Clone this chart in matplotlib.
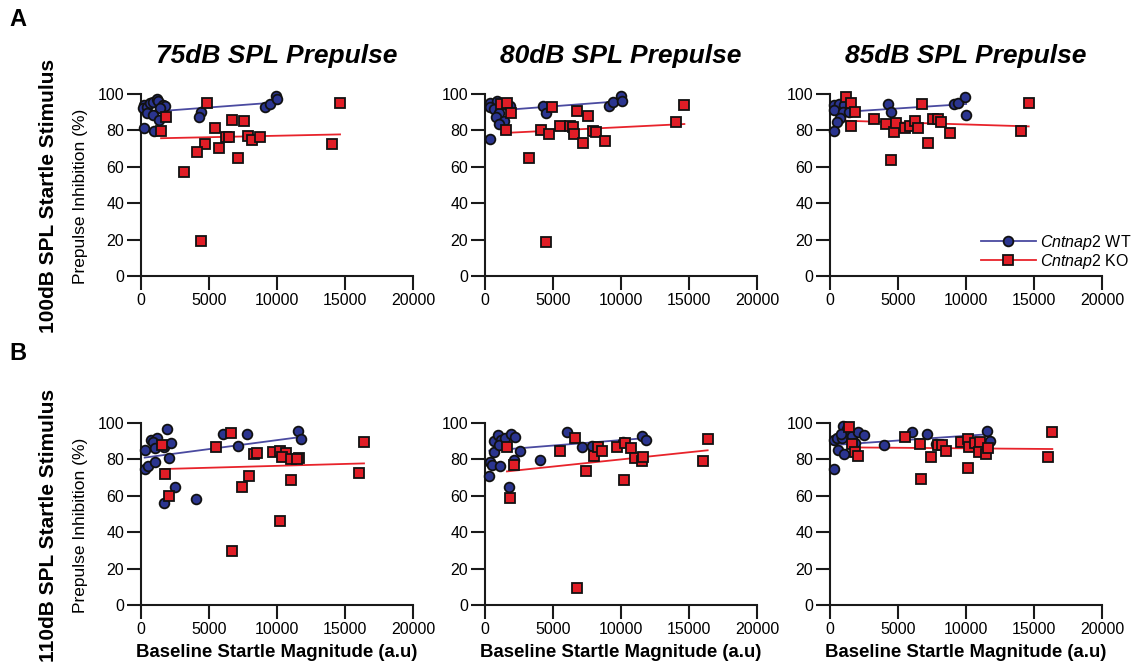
import numpy as np
import matplotlib
matplotlib.use('Agg')
import matplotlib.pyplot as plt

plt.rcParams['font.family'] = ['Liberation Sans', 'DejaVu Sans']
plt.rcParams['mathtext.fontset'] = 'custom'
plt.rcParams['mathtext.rm'] = 'Liberation Sans'
plt.rcParams['mathtext.it'] = 'Liberation Sans:italic'

titles = ['75dB SPL Prepulse', '80dB SPL Prepulse', '85dB SPL Prepulse']
row_labels = ['100dB SPL Startle Stimulus', '110dB SPL Startle Stimulus']
panel_letters = ['A', 'B']

# 100dB startle, 75dB prepulse
wt_x_100_75 = [246, 172, 418, 664, 910, 1156, 1279, 1648, 1771, 1402, 418, 910, 1328, 246, 959,
               4427, 4230, 9124, 9468, 9935, 10009]
wt_y_100_75 = [93.9, 92.1, 93.0, 94.9, 95.8, 97.1, 96.3, 93.9, 93.6, 92.1, 89.4, 88.4, 85.7, 81.5, 79.6,
               90.3, 87.5, 92.7, 94.5, 98.9, 97.1]
ko_x_100_75 = [4845, 1820, 1476, 5460, 6714, 7550, 14634, 14020, 4697, 4083, 5730, 6270, 6468, 7895,
               8141, 8780, 7108, 3173, 4378]
ko_y_100_75 = [94.9, 87.5, 79.8, 81.5, 85.9, 85.0, 95.0, 72.5, 72.5, 68.4, 70.5, 76.1, 76.1, 77.1,
               74.7, 76.5, 64.8, 57.2, 19.3]

# 100dB startle, 80dB prepulse
wt_x_100_80 = [392, 881, 343, 636, 1004, 783, 1370, 1004, 392, 1860, 4258, 4503, 9153, 9447, 9985, 10059]
wt_y_100_80 = [95.2, 96.3, 92.7, 91.6, 89.4, 87.5, 85.3, 83.3, 75.2, 93.4, 93.6, 89.7, 93.6, 95.4, 98.9, 96.3]
ko_x_100_80 = [1175, 1615, 1909, 1566, 4944, 4136, 4723, 5482, 6265, 6461, 6510, 6755, 7562, 7195,
               7929, 8174, 8835, 3230, 4454, 14023, 14660]
ko_y_100_80 = [94.5, 95.2, 89.4, 80.2, 93.0, 80.2, 78.0, 82.6, 82.6, 82.0, 78.0, 90.6, 87.9, 73.0,
               79.4, 79.1, 74.1, 65.0, 18.7, 84.8, 94.1]

# 100dB startle, 85dB prepulse
wt_x_100_85 = [318, 636, 1004, 318, 930, 1370, 759, 514, 318, 4258, 4503, 9153, 9447, 9936, 10010]
wt_y_100_85 = [93.9, 94.5, 93.9, 91.2, 90.3, 90.3, 86.6, 84.8, 79.8, 94.3, 89.9, 94.3, 95.2, 98.5, 88.4]
ko_x_100_85 = [1175, 1566, 1860, 1517, 3230, 4136, 4699, 4870, 5482, 5898, 6265, 6461, 6755, 7171,
               7538, 7929, 8149, 8810, 4454, 14023, 14611]
ko_y_100_85 = [98.5, 95.2, 90.3, 82.6, 86.4, 83.3, 78.9, 83.9, 81.5, 82.4, 85.0, 81.5, 94.5, 73.2,
               86.1, 86.1, 84.6, 78.7, 64.0, 79.6, 95.0]

# 110dB startle, 75dB prepulse
wt_x_110_75 = [294, 711, 1152, 907, 1005, 1691, 2181, 1912, 2059, 270, 515, 1005, 2475, 1691, 4020,
               6029, 7819, 7108, 11569, 11740]
wt_y_110_75 = [85.2, 90.7, 91.6, 89.4, 86.4, 87.0, 88.8, 96.5, 80.6, 74.7, 76.4, 78.4, 65.0, 55.9, 58.1,
               94.0, 94.0, 87.5, 95.6, 91.2]
ko_x_110_75 = [1569, 5539, 6618, 8309, 8554, 9706, 10196, 10686, 10343, 11005, 11618, 11495, 1789,
               7966, 7451, 11054, 2083, 10245, 6716, 16397, 16029]
ko_y_110_75 = [87.9, 87.0, 94.3, 82.8, 83.3, 84.2, 84.8, 83.3, 81.1, 80.2, 80.6, 80.0, 72.0,
               71.1, 64.8, 68.9, 59.9, 46.2, 29.7, 89.4, 72.3]

# 110dB startle, 80dB prepulse
wt_x_110_80 = [318, 392, 514, 1077, 636, 685, 930, 1199, 1004, 1493, 1909, 2227, 2545, 2104, 1737,
               4063, 6020, 7122, 7856, 10181, 11575, 11820]
wt_y_110_80 = [71.1, 78.8, 77.0, 76.4, 84.1, 90.0, 93.6, 90.5, 88.1, 91.8, 94.0, 92.2, 84.8, 79.5, 64.7,
               79.5, 95.2, 87.0, 87.4, 89.4, 93.0, 90.7]
ko_x_110_80 = [1615, 2104, 1811, 5531, 6633, 7440, 6755, 7978, 8296, 8590, 9691, 10303, 10719, 10230,
               11037, 11526, 11648, 16371, 16004]
ko_y_110_80 = [87.0, 76.9, 58.6, 84.8, 91.6, 73.8, 9.2, 82.0, 87.0, 84.6, 87.0, 88.8, 86.4, 68.5,
               80.6, 79.3, 81.5, 91.0, 79.3]

# 110dB startle, 85dB prepulse
wt_x_110_85 = [269, 269, 514, 881, 1077, 930, 1248, 832, 1615, 2056, 2472, 1860, 587, 1004, 3989,
               6020, 7122, 7807, 11526, 11771]
wt_y_110_85 = [74.7, 90.8, 91.6, 91.6, 97.6, 98.5, 96.7, 93.9, 93.0, 95.2, 93.4, 89.0, 85.2, 82.9, 87.9,
               94.9, 93.8, 88.5, 95.8, 90.1]
ko_x_110_85 = [1419, 1615, 1811, 2056, 5482, 6583, 7440, 6681, 7929, 8272, 8541, 9643, 10181, 10254,
               10670, 11037, 10988, 11477, 11599, 10181, 16346, 16004]
ko_y_110_85 = [98.0, 88.5, 83.9, 82.1, 92.3, 88.6, 81.1, 69.0, 87.9, 87.9, 84.8, 89.4, 91.2, 87.0,
               89.2, 89.7, 84.2, 83.0, 86.1, 75.5, 94.9, 81.1]

# regression lines as drawn in the figure: y at the smallest and largest x of each group
wt_fit = [[(89.9, 95.4), (90.6, 96.1), (89.8, 94.5)],
          [(81.0, 92.3), (84.8, 91.7), (87.9, 93.9)]]
ko_fit = [[(75.7, 77.8), (78.5, 83.5), (85.3, 82.2)],
          [(74.7, 77.8), (73.4, 85.0), (86.6, 85.7)]]

panels = [
    [(wt_x_100_75, wt_y_100_75, ko_x_100_75, ko_y_100_75),
     (wt_x_100_80, wt_y_100_80, ko_x_100_80, ko_y_100_80),
     (wt_x_100_85, wt_y_100_85, ko_x_100_85, ko_y_100_85)],
    [(wt_x_110_75, wt_y_110_75, ko_x_110_75, ko_y_110_75),
     (wt_x_110_80, wt_y_110_80, ko_x_110_80, ko_y_110_80),
     (wt_x_110_85, wt_y_110_85, ko_x_110_85, ko_y_110_85)],
]

wt_fill = '#2b3590'
wt_line = '#4a4aa0'
ko_fill = '#e11d26'
ko_line = '#e8232b'

W, H = 1133, 671
fig = plt.figure(figsize=(W / 100, H / 100), dpi=100)

col_left = [141, 485, 830]
row_top = [94, 423]
ax_w, ax_h = 272, 182

for r in range(2):
    for c in range(3):
        ax = fig.add_axes([col_left[c] / W, (H - row_top[r] - ax_h) / H, ax_w / W, ax_h / H])
        wx, wy, kx, ky = panels[r][c]
        ax.plot([min(wx), max(wx)], wt_fit[r][c], color=wt_line, lw=1.3, zorder=2)
        ax.plot([min(kx), max(kx)], ko_fit[r][c], color=ko_line, lw=1.3, zorder=2)
        ax.plot(wx, wy, 'o', ms=7, mfc=wt_fill, mec='#111111', mew=1.3, zorder=3, clip_on=False)
        ax.plot(kx, ky, 's', ms=7, mfc=ko_fill, mec='#111111', mew=1.3, zorder=4, clip_on=False)

        ax.set_xlim(0, 20000)
        ax.set_ylim(0, 100)
        ax.set_xticks([0, 5000, 10000, 15000, 20000])
        ax.set_yticks([0, 20, 40, 60, 80, 100])
        for s in ['top', 'right']:
            ax.spines[s].set_visible(False)
        for s in ['left', 'bottom']:
            ax.spines[s].set_linewidth(1.5)
            ax.spines[s].set_color('#1a1a1a')
        ax.tick_params(length=10, width=1.5, labelsize=11.5, color='#1a1a1a')
        ax.tick_params(axis='x', pad=2.5)
        ax.tick_params(axis='y', pad=2)
        ax.patch.set_alpha(0)

        if r == 0:
            ax.set_title(titles[c], fontsize=19, fontweight='bold', fontstyle='italic', pad=22)
        if r == 1:
            ax.set_xlabel('Baseline Startle Magnitude (a.u)', fontsize=13.4, fontweight='bold', labelpad=5)
        if c == 0:
            ax.set_ylabel('Prepulse Inhibition (%)', fontsize=12.5)
            ax.yaxis.set_label_coords(-0.195, 0.435)

        if r == 0 and c == 2:
            ax.plot([], [], '-o', color=wt_line, lw=1.3, ms=7, mfc=wt_fill, mec='#111111', mew=1.3,
                    label=r'$\it{Cntnap2}$ WT')
            ax.plot([], [], '-s', color=ko_line, lw=1.3, ms=7, mfc=ko_fill, mec='#111111', mew=1.3,
                    label=r'$\it{Cntnap2}$ KO')
            ax.legend(loc='lower right', bbox_to_anchor=(1.136, -0.015), frameon=False, fontsize=11.5,
                      handlelength=3.4, handletextpad=0.25, labelspacing=0.0, borderpad=0)

for r in range(2):
    fig.text(48 / W, 1 - (row_top[r] + ax_h / 2 + 11) / H, row_labels[r], rotation=90, fontsize=15,
             fontweight='bold', ha='center', va='center')
    fig.text(18 / W, 1 - (19 + r * 334) / H, panel_letters[r], fontsize=17, fontweight='bold',
             ha='center', va='center')

fig.savefig('out.png', dpi=100)
